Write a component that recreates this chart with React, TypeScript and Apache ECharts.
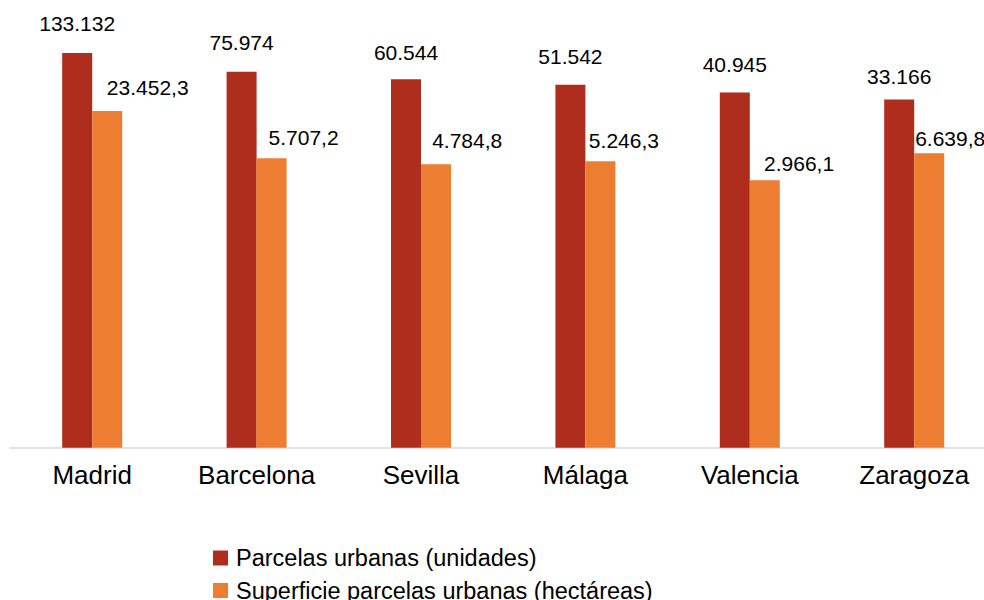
import React, { useEffect, useRef } from "react";
import * as echarts from "echarts";

const categories = ["Madrid", "Barcelona", "Sevilla", "Málaga", "Valencia", "Zaragoza"];
const seriesNames = ["Parcelas urbanas (unidades)", "Superficie parcelas urbanas (hectáreas)"];
const parcelasUnidades = [133132, 75974, 60544, 51542, 40945, 33166];
const superficieHectareas = [23452.3, 5707.2, 4784.8, 5246.3, 2966.1, 6639.8];

// label placement (pixels) — layout only
const redLabelRise = [29.7, 29.5, 27.3, 28, 28.3, 23.3];
const orangeLabelDx = [40.5, 32, 31.2, 23.5, 34.3, 21];
const orangeLabelRise = [23.5, 20.8, 23.3, 20.4, 16.7, 15];

const FONT = '"Liberation Sans", Arial, sans-serif';
const RED = "#AE2D1D";
const ORANGE = "#ED7D31";

function fmtEs(v: number, decimals: number): string {
  const fixed = v.toFixed(decimals);
  const [int, dec] = fixed.split(".");
  const withSep = int.replace(/\B(?=(\d{3})+(?!\d))/g, ".");
  return dec ? withSep + "," + dec : withSep;
}

export default function App() {
  const ref = useRef<HTMLDivElement>(null);
  useEffect(() => {
    if (!ref.current) return;
    const chart = echarts.init(ref.current, undefined, { renderer: "svg" });
    chart.setOption({
      animation: false,
      backgroundColor: "#ffffff",
      textStyle: { fontFamily: FONT },
      legend: {
        orient: "vertical",
        left: 213,
        top: 546,
        height: 80,
        padding: 0,
        itemWidth: 15,
        itemHeight: 15,
        itemGap: 8.5,
        icon: "rect",
        data: seriesNames,
        textStyle: {
          fontFamily: FONT,
          fontSize: 23.5,
          color: "#000",
          padding: [0, 0, 0, 3],
        },
      },
      grid: {
        left: 10,
        top: -14.5,
        width: 986.4,
        height: 462.3,
        outerBoundsMode: "none",
        containLabel: false,
      },
      xAxis: {
        type: "category",
        data: categories,
        axisTick: { show: false },
        axisLine: { show: true, lineStyle: { color: "#d9d9d9", width: 1.5 } },
        axisLabel: {
          fontFamily: FONT,
          fontSize: 26,
          color: "#000",
          margin: 14,
          interval: 0,
        },
      },
      yAxis: {
        type: "log",
        logBase: 10,
        min: 1,
        max: 1000000,
        show: false,
        splitLine: { show: false },
      },
      series: [
        {
          name: seriesNames[0],
          type: "bar",
          barWidth: 30,
          barGap: "0%",
          itemStyle: { color: RED },
          data: parcelasUnidades.map((v, i) => ({
            value: v,
            label: { distance: redLabelRise[i] },
          })),
          label: {
            show: true,
            position: "top",
            verticalAlign: "middle",
            fontFamily: FONT,
            fontSize: 21,
            color: "#000",
            formatter: (p: any) => fmtEs(p.value, 0),
          },
        },
        {
          name: seriesNames[1],
          type: "bar",
          barWidth: 30,
          barGap: "0%",
          itemStyle: { color: ORANGE },
          data: superficieHectareas.map((v, i) => ({
            value: v,
            label: { distance: orangeLabelRise[i], offset: [orangeLabelDx[i], 0] },
          })),
          label: {
            show: true,
            position: "top",
            verticalAlign: "middle",
            fontFamily: FONT,
            fontSize: 21,
            color: "#000",
            formatter: (p: any) => fmtEs(p.value, 1),
          },
        },
      ],
    });
    return () => chart.dispose();
  }, []);
  return (
    <div
      style={{
        position: "fixed",
        left: 0,
        top: 0,
        width: 984,
        height: 600,
        overflow: "hidden",
        background: "#fff",
      }}
    >
      <div ref={ref} style={{ width: 1000, height: 680 }} />
    </div>
  );
}
